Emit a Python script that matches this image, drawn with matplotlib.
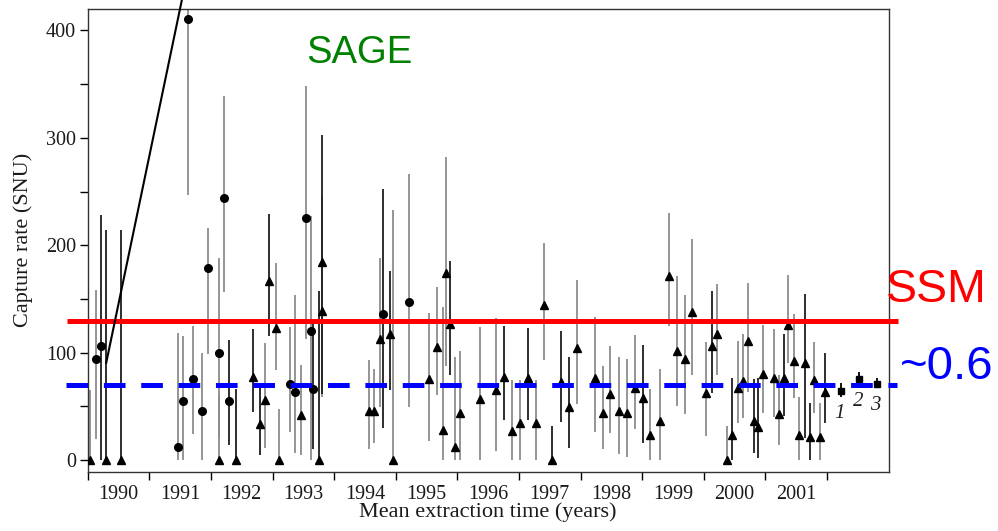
import numpy as np
import matplotlib
matplotlib.use("Agg")
import matplotlib.pyplot as plt

# SAGE gallium runs: mean extraction time (yr), capture rate and 1-sigma range (SNU)
run_time = [1990.03, 1990.13, 1990.22, 1990.30, 1990.54,
            1991.46, 1991.54, 1991.62, 1991.71, 1991.86, 1991.95,
            1992.13, 1992.13, 1992.21, 1992.29, 1992.40, 1992.69, 1992.79, 1992.87, 1992.94,
            1993.06, 1993.11, 1993.28, 1993.37, 1993.46, 1993.54, 1993.63, 1993.65, 1993.76,
            1993.80, 1993.81,
            1994.56, 1994.64, 1994.75, 1994.80, 1994.90, 1994.95,
            1995.22, 1995.54, 1995.67, 1995.76, 1995.81, 1995.88, 1995.96,
            1996.05, 1996.36, 1996.62, 1996.75, 1996.89,
            1997.02, 1997.15, 1997.28, 1997.40, 1997.54, 1997.68, 1997.81, 1997.94,
            1998.23, 1998.37, 1998.48, 1998.62, 1998.75, 1998.89,
            1999.02, 1999.13, 1999.28, 1999.43, 1999.57, 1999.69, 1999.80,
            2000.04, 2000.13, 2000.22, 2000.38, 2000.46, 2000.55, 2000.63, 2000.72, 2000.81,
            2000.88, 2000.96,
            2001.14, 2001.22, 2001.30, 2001.37, 2001.47, 2001.55, 2001.64, 2001.72, 2001.79,
            2001.89, 2001.97]
rate = [0, 94, 106.5, 0, 0,
        12, 55, 411, 75, 46, 179,
        99.4, 0, 244, 55, 0, 77.6, 33.5, 56, 167,
        123, 0, 71, 63.5, 42, 225, 119.6, 66, 0,
        139, 184,
        45.6, 45.6, 112.7, 136.3, 116.8, 0,
        147, 75.2, 105.6, 28, 174, 126.7, 11.8,
        43.5, 56.5, 65, 77.6, 27,
        34, 76, 34, 144.4, 0, 73, 48.8, 104.6,
        76, 43.5, 61, 45.6, 43.5, 66.8,
        58, 23.3, 36.3, 171.7, 101, 93.8, 138,
        62, 106.5, 117, 0, 23.3, 67.4, 73.6, 111, 36.3,
        31, 79.8,
        76.7, 42.6, 76.7, 125.8, 92, 23.3, 90, 21.7, 74.5,
        21.7, 63.7]
rate_lo = [0, 19, 0, 0, 0,
           0, 0, 247, 24, 0, 99,
           20, 0, 156, 14, 0, 45, 5, 11, 115.5,
           84, 0, 26, 6, 5, 113, 0, 10, 0,
           59, 61,
           10, 15.5, 49.7, 29.5, 65, 0,
           49.7, 18, 60.6, 0, 87, 79, 0,
           0, 0, 8, 37, 0,
           0, 37, 0, 93, 0, 35, 11, 52,
           26, 10, 25, 5.6, 3, 29,
           15.5, 0, 0, 125, 50, 43, 79,
           22.4, 62, 79, 0, 0, 34, 39, 63.7, 6.8,
           1.6, 43.5,
           40.4, 14, 41, 90, 57.5, 0, 20, 0, 44,
           0, 34]
rate_hi = [65, 158, 228, 214, 214,
           118, 115, 440, 125, 100, 216,
           188.5, 60, 339, 112, 66, 122, 68, 109, 229,
           183, 47, 124, 154, 88.5, 348, 227, 130, 157,
           245, 303,
           93, 84.5, 188, 252, 175.5, 233,
           266, 137, 161.5, 142, 282, 185, 96,
           101, 123.6, 132, 125, 74.5,
           74.5, 122.7, 74, 202.5, 31.7, 120.5, 96, 168,
           133, 87.6, 106, 96, 94, 116,
           107, 66, 84.5, 230, 171.7, 153.7, 206,
           110, 157, 163.7, 31.7, 76, 111, 117.4, 164.6, 75.2,
           76, 125.8,
           122, 79, 117.4, 172.4, 136, 59, 154.7, 53.4, 109.6,
           52.8, 100]
# "K" = K-peak only, "KL" = K+L peaks
peak = ["KL", "K", "K", "KL", "KL",
        "K", "K", "K", "K", "K", "K",
        "K", "KL", "K", "K", "KL", "KL", "KL", "KL", "KL",
        "KL", "KL", "K", "K", "KL", "K", "K", "K", "KL",
        "KL", "KL",
        "KL", "KL", "KL", "K", "KL", "KL",
        "K"] + ["KL"] * 54

# combined results for the three data sets
comb_time = [2002.22, 2002.52, 2002.81]
comb_rate = [64.3, 75.5, 71.1]
comb_lo = [59, 71.4, 66.8]
comb_hi = [71.4, 82.3, 76.1]
comb_tags = ["1", "2", "3"]

ssm_rate = 129.5
observed_rate = 70
years = list(range(1990, 2002))

# runs whose error bars are drawn dark
dark_runs = {2, 3, 4, 14, 15, 16, 17, 19, 27, 28, 30, 34, 35, 42, 47, 50, 53, 54, 55,
             63, 71, 74, 78, 79, 83, 87, 88, 91}

t = np.array(run_time)
v = np.array(rate)
lo = np.array(rate_lo)
hi = np.array(rate_hi)
dark = np.array([i in dark_runs for i in range(len(t))])

serif = "Liberation Serif"
plt.rcParams["lines.scale_dashes"] = False

fig = plt.figure(figsize=(9.98, 5.31), dpi=100)
ax = fig.add_axes([0.0879, 0.1117, 0.8026, 0.8713])

for mask, col in [(~dark, "#8c8c8c"), (dark, "#1e1e1e")]:
    ax.errorbar(t[mask], v[mask], yerr=[v[mask] - lo[mask], hi[mask] - v[mask]],
                fmt="none", ecolor=col, elinewidth=1.3, capsize=0, zorder=2)

kinds = np.array(peak)
ax.plot(t[kinds == "K"], v[kinds == "K"], "o", color="black", ms=5.5, zorder=3)
ax.plot(t[kinds == "KL"], v[kinds == "KL"], "^", color="black", ms=6, zorder=3)

ct = np.array(comb_time)
cv = np.array(comb_rate)
ax.errorbar(ct, cv, yerr=[cv - np.array(comb_lo), np.array(comb_hi) - cv],
            fmt="s", color="black", ms=4.5, elinewidth=1.3, capsize=0, zorder=3)
for x, y, tag in zip(comb_time, comb_rate, comb_tags):
    ax.annotate(tag, (x, y), xytext=(-1, -16), textcoords="offset points",
                ha="center", va="center", fontsize=15, style="italic",
                family=serif, color="#222222")

ax.set_xlim(1990, 2003)
ax.set_ylim(-11, 420)

ax.set_xticks(np.arange(1990, 2003), labels=[])
ax.set_xticks(np.array(years) + 0.5, labels=[str(y) for y in years], minor=True)
ax.tick_params(axis="x", which="major", direction="out", length=5.8, width=1)
ax.tick_params(axis="x", which="minor", length=0, pad=9.5)
ax.set_yticks([0, 100, 200, 300, 400])
ax.set_yticks(np.arange(50, 420, 100), minor=True)
ax.tick_params(axis="y", which="both", direction="out", length=5.5, width=1, pad=3)
ax.tick_params(which="both", labelsize=14.5)
for lab in ax.get_xticklabels(minor=True) + ax.get_yticklabels():
    lab.set_family(serif)
    lab.set_color("#1a1a1a")

for side in ["top", "right", "bottom", "left"]:
    ax.spines[side].set_color("#333333")
    ax.spines[side].set_linewidth(1.0)

ax.set_xlabel("Mean extraction time (years)", family=serif, fontsize=16, color="#1a1a1a")
ax.xaxis.set_label_coords(0.5, -0.066)
ax.set_ylabel("Capture rate (SNU)", family=serif, fontsize=16, color="#1a1a1a",
              va="center")
ax.yaxis.set_label_coords(-0.0808, 0.5)

# standard solar model prediction and the measured ~0.6 of it
ax.plot([1989.66, 2003.15], [ssm_rate, ssm_rate], color="#ff0000", lw=3.6,
        clip_on=False, zorder=5, solid_capstyle="butt")
ax.plot([1989.64, 2003.13], [observed_rate, observed_rate], color="#0000ff", lw=3.6,
        ls=(0, (15.6, 11.3)), clip_on=False, zorder=5, dash_capstyle="butt")

# pointer running up out of the frame from the first runs
ax.plot([1990.30, 1991.57], [90.4, 440], color="black", lw=1.5, clip_on=False, zorder=6)

ax.text(1994.41, 369.6, "SAGE", color="#008000", fontsize=27.5,
        family="Liberation Sans", ha="center", va="baseline")
fig.text(0.9379, 0.4318, "SSM", color="#ff0000", fontsize=33.5,
         family="Liberation Sans", ha="center", va="baseline")
fig.text(0.9489, 0.2863, "~0.6", color="#0000ff", fontsize=34,
         family="Liberation Sans", ha="center", va="baseline")

fig.savefig("out.png", dpi=100)
